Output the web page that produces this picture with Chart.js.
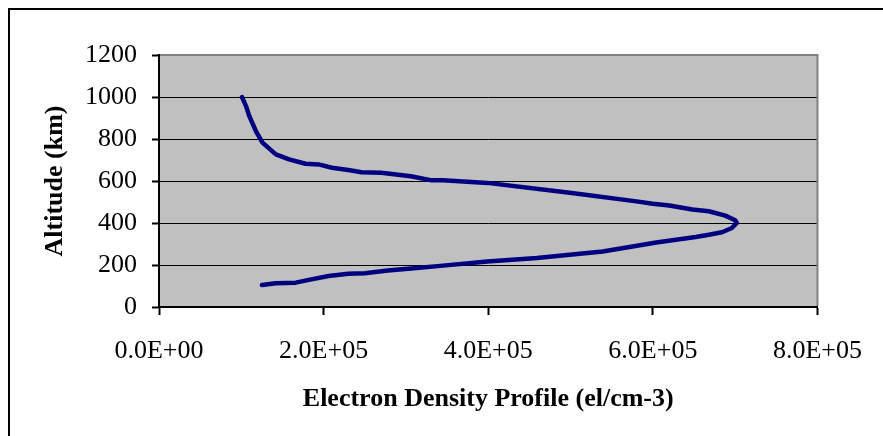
<!DOCTYPE html>
<html>
<head>
<meta charset="utf-8">
<script src="https://cdn.jsdelivr.net/npm/chart.js@4/dist/chart.umd.min.js"></script>
<style>
  html, body { margin: 0; padding: 0; background: #ffffff; }
  #wrap { width: 883px; height: 436px; }
</style>
</head>
<body>
<div id="wrap"><canvas id="c" width="883" height="436"></canvas></div>
<script>
// Electron density (el/cm-3), bottom of the profile to the top
const density = [
  1.25e5, 1.42e5, 1.66e5, 1.82e5, 2.06e5, 2.30e5, 2.50e5, 2.78e5, 3.10e5, 3.45e5,
  3.99e5, 4.59e5, 5.39e5, 5.88e5, 6.04e5, 6.28e5, 6.52e5, 6.68e5, 6.84e5, 6.96e5,
  7.02e5, 7.00e5, 6.88e5, 6.68e5, 6.48e5, 6.20e5, 6.00e5, 5.80e5, 4.99e5, 3.99e5,
  3.45e5, 3.30e5, 3.06e5, 2.70e5, 2.46e5, 2.30e5, 2.10e5, 1.94e5, 1.78e5, 1.58e5,
  1.42e5, 1.257e5, 1.177e5, 1.096e5, 1.056e5, 1.008e5
];
// Altitude (km) matching each density value
const altitude = [
  105, 113, 116, 129, 148, 158, 161, 174, 185, 197,
  217, 233, 264, 296, 307, 320, 333, 344, 356, 376,
  400, 413, 435, 456, 464, 483, 492, 503, 544, 591,
  603, 604, 623, 639, 642, 652, 663, 679, 682, 703,
  727, 783, 838, 910, 958, 1000
];
const xTickLabels = ['0.0E+00', '2.0E+05', '4.0E+05', '6.0E+05', '8.0E+05'];
const yTickLabels = ['0', '200', '400', '600', '800', '1000', '1200'];
const xTitle = 'Electron Density Profile (el/cm-3)';
const yTitle = 'Altitude (km)';

const points = density.map((d, i) => ({ x: d, y: altitude[i] }));

const frame = {
  id: 'frame',
  beforeDraw(chart) {
    const { ctx, chartArea: a } = chart;
    ctx.save();
    ctx.fillStyle = '#ffffff';
    ctx.fillRect(0, 0, chart.width, chart.height);
    // outer chart border (left and top visible)
    ctx.strokeStyle = '#000000';
    ctx.lineWidth = 2;
    ctx.beginPath();
    ctx.moveTo(9, chart.height + 2);
    ctx.lineTo(9, 9);
    ctx.lineTo(chart.width + 2, 9);
    ctx.stroke();
    // plot area fill
    ctx.fillStyle = '#C0C0C0';
    ctx.fillRect(a.left, a.top, a.right - a.left, a.bottom - a.top);
    ctx.restore();
  },
  afterDraw(chart) {
    const { ctx, chartArea: a } = chart;
    ctx.save();
    ctx.strokeStyle = '#808080';
    ctx.lineWidth = 2;
    ctx.beginPath();
    ctx.moveTo(a.left + 1, a.top);
    ctx.lineTo(a.right, a.top);
    ctx.lineTo(a.right, a.bottom - 1);
    ctx.stroke();
    ctx.restore();
  }
};

const tickFont = { family: '"Liberation Serif", "Times New Roman", serif', size: 26 };
const titleFont = { family: '"Liberation Serif", "Times New Roman", serif', size: 26, weight: 'bold' };

new Chart(document.getElementById('c'), {
  type: 'scatter',
  data: {
    datasets: [{
      data: points,
      showLine: true,
      borderColor: '#000080',
      backgroundColor: '#000080',
      borderWidth: 4.5,
      borderCapStyle: 'round',
      borderJoinStyle: 'round',
      pointRadius: 0,
      pointHoverRadius: 0,
      tension: 0
    }]
  },
  options: {
    responsive: false,
    devicePixelRatio: 1,
    animation: false,
    events: [],
    layout: { padding: { top: 55, right: 60, bottom: 0, left: 0 } },
    plugins: { legend: { display: false }, tooltip: { enabled: false } },
    scales: {
      x: {
        type: 'linear',
        min: 0, max: 800000,
        afterFit(s) { s.height = 129; },
        ticks: {
          stepSize: 200000,
          color: '#000000',
          font: tickFont,
          padding: 21,
          maxRotation: 0,
          callback: (v, i) => xTickLabels[i]
        },
        grid: { drawOnChartArea: false, color: '#000000', tickLength: 8, tickWidth: 2 },
        border: { color: '#000000', width: 2 },
        title: { display: true, text: xTitle, color: '#000000', font: titleFont, padding: { top: 0, bottom: 21 } }
      },
      y: {
        type: 'linear',
        min: 0, max: 1200,
        afterFit(s) { s.width = 159; },
        ticks: {
          stepSize: 200,
          color: '#000000',
          font: tickFont,
          padding: 15,
          callback: (v, i) => yTickLabels[i]
        },
        grid: { color: '#000000', lineWidth: 1, tickLength: 7, tickWidth: 2 },
        border: { color: '#000000', width: 2 },
        title: { display: true, text: yTitle, color: '#000000', font: titleFont, padding: { top: 40, bottom: 0 } }
      }
    }
  },
  plugins: [frame]
});
</script>
</body>
</html>
